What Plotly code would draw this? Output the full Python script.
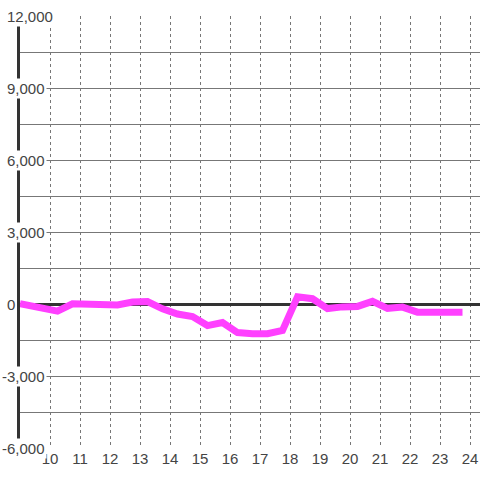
import plotly.graph_objects as go

hours = [9.0, 9.25, 9.75, 10.25, 10.75, 11.25, 11.75, 12.25, 12.75, 13.25,
         13.75, 14.25, 14.75, 15.25, 15.75, 16.25, 16.75, 17.25, 17.75, 18.25,
         18.75, 19.25, 19.75, 20.25, 20.75, 21.25, 21.75, 22.25, 22.75, 23.25, 23.75]
values = [10, -60, -200, -300, 10, 0, 40, -40, 80, 100,
          -200, -420, -520, -900, -770, -1190, -1240, -1240, -1100, 300,
          220, -190, -120, -100, 110, -180, -130, -340, -340, -340, -340]

y_tick_vals = [12000, 9000, 6000, 3000, 0, -3000, -6000]
y_tick_text = ["12,000", "9,000", "6,000", "3,000", "0", "-3,000", "-6,000"]
x_tick_vals = list(range(10, 25))

FONT = "Liberation Sans, Arial, sans-serif"

fig = go.Figure()
fig.add_trace(go.Scatter(
    x=hours, y=values, mode="lines",
    line=dict(color="#ff40ff", width=7),
    hoverinfo="skip", showlegend=False,
))

annotations = []
for v, t in zip(y_tick_vals, y_tick_text):
    annotations.append(dict(
        x=0, xref="paper", y=v, yref="y", text=t, showarrow=False,
        xanchor="left", yanchor="middle", xshift=-15 - (5 if v < 0 else 0),
        bgcolor="white", borderpad=1,
        font=dict(family=FONT, size=15, color="#444"),
    ))

fig.update_layout(
    width=480, height=480,
    margin=dict(l=20, r=0, t=16, b=32),
    paper_bgcolor="white", plot_bgcolor="white",
    showlegend=False,
    annotations=annotations,
    xaxis=dict(
        range=[9, 24.3333], tickmode="array", tickvals=x_tick_vals,
        ticktext=[str(v) for v in x_tick_vals],
        showgrid=True, gridcolor="#777", gridwidth=1, griddash="3px,3px",
        showline=False, zeroline=False, ticks="",
        tickfont=dict(family=FONT, size=15, color="#444"),
        layer="below traces", fixedrange=True,
    ),
    yaxis=dict(
        range=[-6000, 12000], dtick=1500, tick0=0,
        showgrid=True, gridcolor="#777", gridwidth=1,
        showticklabels=False, ticks="",
        showline=True, linecolor="#333", linewidth=3,
        zeroline=True, zerolinecolor="#333", zerolinewidth=3,
        layer="below traces", fixedrange=True,
    ),
)

fig.write_html("out.html", config={"displayModeBar": False},
               post_script="document.body.style.margin='0';")
